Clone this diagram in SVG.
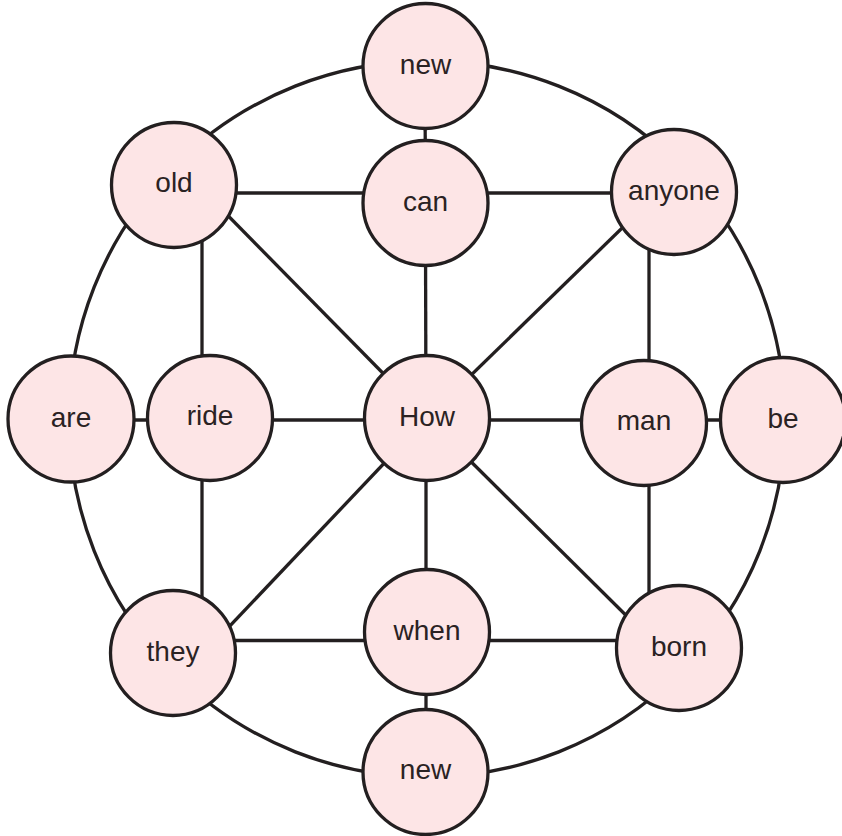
<svg xmlns="http://www.w3.org/2000/svg" width="842" height="836" viewBox="0 0 842 836">
<style>
.n circle{fill:#fde5e6;stroke:#231f20;stroke-width:3.3}
.n text{font-family:"Liberation Sans",Arial,sans-serif;font-size:28px;fill:#2a2223;text-anchor:middle}
#edges line,#edges circle{stroke:#231f20;stroke-width:3.3;fill:none}
</style>
<rect width="842" height="836" fill="#ffffff"/>
<g id="edges">
<circle cx="427" cy="419" r="358"/>
<line x1="425" y1="66" x2="426" y2="418"/>
<line x1="426" y1="418" x2="426" y2="772"/>
<line x1="174" y1="193" x2="674" y2="193"/>
<line x1="202" y1="185" x2="202" y2="653"/>
<line x1="649" y1="192" x2="649" y2="648"/>
<line x1="71" y1="420" x2="783" y2="420"/>
<line x1="173" y1="640.5" x2="679" y2="640.5"/>
<line x1="427" y1="418" x2="190" y2="177"/>
<line x1="427" y1="418" x2="655" y2="196"/>
<line x1="427" y1="418" x2="190" y2="668"/>
<line x1="427" y1="418" x2="665" y2="654"/>
</g>
<g id="n-new-top" class="n"><circle cx="425.5" cy="66" r="62.5"/><text x="425.5" y="74">new</text></g>
<g id="n-old" class="n"><circle cx="174" cy="185" r="62.5"/><text x="174" y="192">old</text></g>
<g id="n-can" class="n"><circle cx="425.5" cy="203" r="62.5"/><text x="425.5" y="211">can</text></g>
<g id="n-anyone" class="n"><circle cx="674" cy="192" r="62.5"/><text x="674" y="200">anyone</text></g>
<g id="n-are" class="n"><circle cx="71" cy="419" r="63"/><text x="71" y="427">are</text></g>
<g id="n-ride" class="n"><circle cx="210" cy="418" r="62.5"/><text x="210" y="425">ride</text></g>
<g id="n-How" class="n"><circle cx="427" cy="418" r="62.5"/><text x="427" y="426">How</text></g>
<g id="n-man" class="n"><circle cx="644" cy="423" r="62.5"/><text x="644" y="430">man</text></g>
<g id="n-be" class="n"><circle cx="783" cy="420" r="62.5"/><text x="783" y="428">be</text></g>
<g id="n-they" class="n"><circle cx="173" cy="653" r="62.5"/><text x="173" y="661">they</text></g>
<g id="n-when" class="n"><circle cx="427" cy="632" r="62.5"/><text x="427" y="640">when</text></g>
<g id="n-born" class="n"><circle cx="679" cy="648" r="62.5"/><text x="679" y="656">born</text></g>
<g id="n-new-bottom" class="n"><circle cx="425.5" cy="772" r="62.5"/><text x="425.5" y="779">new</text></g>
</svg>
